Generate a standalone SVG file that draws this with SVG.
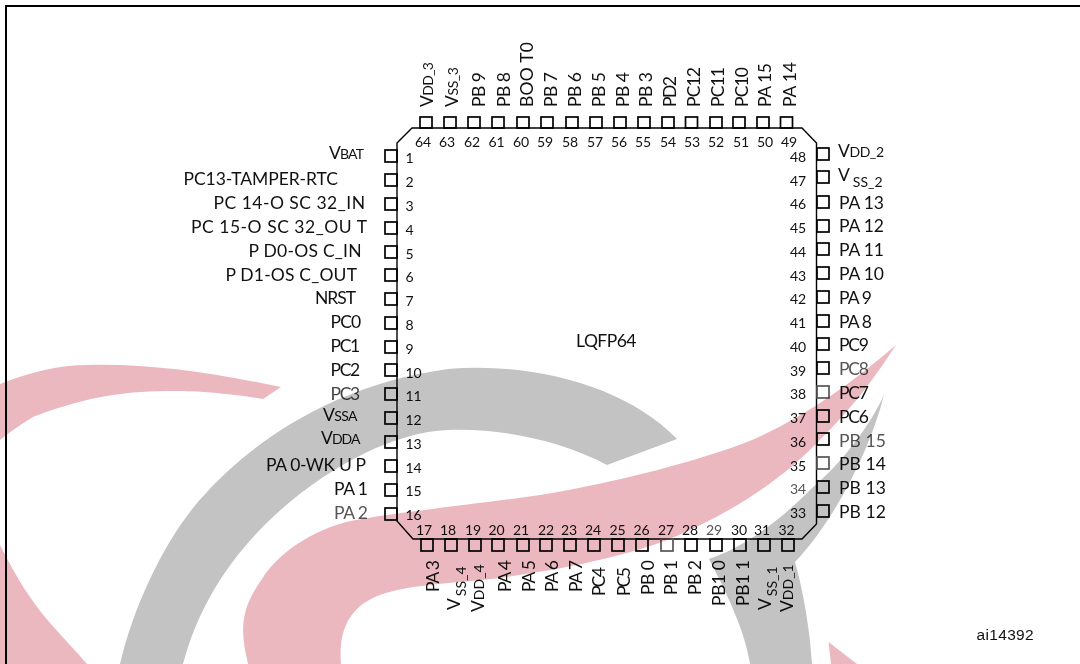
<svg xmlns="http://www.w3.org/2000/svg" width="1080" height="664" viewBox="0 0 1080 664">
<style>
text{font-family:"Lato","Open Sans","Liberation Sans",sans-serif;fill:#111}
.l{font-size:17.5px}
.n{font-size:14px}
.m{text-anchor:middle}
.s{font-size:14px}
.p{fill:none;stroke:#000;stroke-width:1.7}
.d{stroke:#555}
.g{fill:#555}
.w{mix-blend-mode:multiply}
</style>
<rect width="1080" height="664" fill="#fff"/>
<g id="frame"><path d="M6,664V6H1080" fill="none" stroke="#000" stroke-width="2"/></g>
<g id="package">
<path d="M397,143L412,128H802L816.5,143V524L802,539H413L397,521Z" fill="none" stroke="#000" stroke-width="1.4"/>
<text class="l" x="576" y="347" textLength="60.5">LQFP64</text>
</g>
<g id="pin1"><rect class="p" x="385" y="150" width="12" height="12"/><text class="n" x="405.5" y="163">1</text><text class="l" x="329" y="159" textLength="35">V<tspan class="s">BAT</tspan></text></g>
<g id="pin2"><rect class="p" x="385" y="174" width="12" height="12"/><text class="n" x="405.5" y="187">2</text><text class="l" x="183.5" y="185" textLength="154.5">PC13-TAMPER-RTC</text></g>
<g id="pin3"><rect class="p" x="385" y="198" width="12" height="12"/><text class="n" x="405.5" y="211">3</text><text class="l" x="213.5" y="209" textLength="151.5">PC 14-O SC 32_IN</text></g>
<g id="pin4"><rect class="p" x="385" y="222" width="12" height="12"/><text class="n" x="405.5" y="235">4</text><text class="l" x="191" y="233" textLength="176">PC 15-O SC 32_OU T</text></g>
<g id="pin5"><rect class="p" x="385" y="246" width="12" height="12"/><text class="n" x="405.5" y="259">5</text><text class="l" x="248.6" y="257" textLength="113">P D0-OS C_IN</text></g>
<g id="pin6"><rect class="p" x="385" y="269" width="12" height="12"/><text class="n" x="405.5" y="282">6</text><text class="l" x="225.5" y="281" textLength="131.5">P D1-OS C_OUT</text></g>
<g id="pin7"><rect class="p" x="385" y="293" width="12" height="12"/><text class="n" x="405.5" y="306">7</text><text class="l" x="315" y="304" textLength="41">NRST</text></g>
<g id="pin8"><rect class="p" x="385" y="317" width="12" height="12"/><text class="n" x="405.5" y="330">8</text><text class="l" x="330.6" y="328" textLength="30.5">PC0</text></g>
<g id="pin9"><rect class="p" x="385" y="341" width="12" height="12"/><text class="n" x="405.5" y="354">9</text><text class="l" x="330.6" y="352" textLength="29.5">PC1</text></g>
<g id="pin10"><rect class="p" x="385" y="364" width="12" height="12"/><text class="n" x="405.5" y="378">10</text><text class="l" x="330.6" y="376" textLength="29.5">PC2</text></g>
<g id="pin11"><rect class="p" x="385" y="388" width="12" height="12"/><text class="n" x="405.5" y="401">11</text><text class="l" x="330.6" y="400" textLength="29.5" style="fill:#444">PC3</text></g>
<g id="pin12"><rect class="p" x="385" y="412" width="12" height="12"/><text class="n" x="405.5" y="425">12</text><text class="l" x="323" y="421" textLength="34.5">V<tspan class="s">SSA</tspan></text></g>
<g id="pin13"><rect class="p" x="385" y="436" width="12" height="12"/><text class="n" x="405.5" y="449">13</text><text class="l" x="321" y="444" textLength="39.5">V<tspan class="s">DDA</tspan></text></g>
<g id="pin14"><rect class="p" x="385" y="460" width="12" height="12"/><text class="n" x="405.5" y="473">14</text><text class="l" x="266" y="470.7" textLength="100">PA 0-WK U P</text></g>
<g id="pin15"><rect class="p" x="385" y="484" width="12" height="12"/><text class="n" x="405.5" y="496">15</text><text class="l" x="334" y="494.7" textLength="34">PA 1</text></g>
<g id="pin16"><rect class="p" x="385" y="508" width="12" height="12"/><text class="n" x="405.5" y="520">16</text><text class="l g" x="334" y="518.7" textLength="34">PA 2</text></g>
<g id="pin17"><rect class="p" x="421" y="539" width="12" height="12"/><text class="n m" x="424" y="535">17</text><text class="l" transform="translate(439.4,592) rotate(-90)" textLength="32">PA 3</text></g>
<g id="pin18"><rect class="p" x="445" y="539" width="12" height="12"/><text class="n m" x="448" y="535">18</text><text class="l" transform="translate(460,610) rotate(-90)">V<tspan class="s" dy="6" dx="2">SS_4</tspan></text></g>
<g id="pin19"><rect class="p" x="469" y="539" width="12" height="12"/><text class="n m" x="473" y="535">19</text><text class="l" transform="translate(484,612) rotate(-90)">V<tspan class="s">DD_4</tspan></text></g>
<g id="pin20"><rect class="p" x="492" y="539" width="12" height="12"/><text class="n m" x="496.5" y="535">20</text><text class="l" transform="translate(510.6,592) rotate(-90)" textLength="32">PA 4</text></g>
<g id="pin21"><rect class="p" x="517" y="539" width="12" height="12"/><text class="n m" x="521" y="535">21</text><text class="l" transform="translate(535,592) rotate(-90)" textLength="32">PA 5</text></g>
<g id="pin22"><rect class="p" x="540" y="539" width="12" height="12"/><text class="n m" x="546" y="535">22</text><text class="l" transform="translate(558,592) rotate(-90)" textLength="32">PA 6</text></g>
<g id="pin23"><rect class="p" x="564" y="539" width="12" height="12"/><text class="n m" x="569" y="535">23</text><text class="l" transform="translate(582,592) rotate(-90)" textLength="32">PA 7</text></g>
<g id="pin24"><rect class="p" x="588" y="539" width="12" height="12"/><text class="n m" x="593" y="535">24</text><text class="l" transform="translate(605,596) rotate(-90)" textLength="29">PC4</text></g>
<g id="pin25"><rect class="p" x="612" y="539" width="12" height="12"/><text class="n m" x="617.5" y="535">25</text><text class="l" transform="translate(629.5,596) rotate(-90)" textLength="29">PC5</text></g>
<g id="pin26"><rect class="p" x="636" y="539" width="12" height="12"/><text class="n m" x="641.6" y="535">26</text><text class="l" transform="translate(653.6,595) rotate(-90)" textLength="35">PB 0</text></g>
<g id="pin27"><rect class="p d" x="661" y="539" width="12" height="12"/><text class="n m" x="666" y="535">27</text><text class="l" transform="translate(677,595) rotate(-90)" textLength="35">PB 1</text></g>
<g id="pin28"><rect class="p" x="685" y="539" width="12" height="12"/><text class="n m" x="690" y="535">28</text><text class="l" transform="translate(701,595) rotate(-90)" textLength="35">PB 2</text></g>
<g id="pin29"><rect class="p" x="710" y="539" width="12" height="12"/><text class="n m g" x="714" y="535">29</text><text class="l" transform="translate(725,606) rotate(-90)" textLength="46">PB1 0</text></g>
<g id="pin30"><rect class="p" x="734" y="539" width="12" height="12"/><text class="n m" x="739" y="535">30</text><text class="l" transform="translate(749,606) rotate(-90)" textLength="46">PB1 1</text></g>
<g id="pin31"><rect class="p" x="758" y="539" width="12" height="12"/><text class="n m" x="762" y="535">31</text><text class="l" transform="translate(770.7,610) rotate(-90)">V<tspan class="s" dy="6" dx="2">SS_1</tspan></text></g>
<g id="pin32"><rect class="p" x="782" y="539" width="12" height="12"/><text class="n m" x="786.5" y="535">32</text><text class="l" transform="translate(793,612) rotate(-90)">V<tspan class="s">DD_1</tspan></text></g>
<g id="pin33"><rect class="p" x="817" y="505" width="12" height="12"/><text class="n" x="790" y="518">33</text><text class="l" x="839" y="518" textLength="47">PB 12</text></g>
<g id="pin34"><rect class="p" x="817" y="481" width="12" height="12"/><text class="n g" x="790" y="494">34</text><text class="l" x="839" y="494" textLength="47">PB 13</text></g>
<g id="pin35"><rect class="p d" x="817" y="457" width="12" height="12"/><text class="n" x="790" y="471">35</text><text class="l" x="839" y="470" textLength="47">PB 14</text></g>
<g id="pin36"><rect class="p" x="817" y="433" width="12" height="12"/><text class="n" x="790" y="447">36</text><text class="l g" x="839" y="447" textLength="47">PB 15</text></g>
<g id="pin37"><rect class="p" x="817" y="410" width="12" height="12"/><text class="n" x="790" y="423">37</text><text class="l" x="839" y="423" textLength="30">PC6</text></g>
<g id="pin38"><rect class="p d" x="817" y="386" width="12" height="12"/><text class="n" x="790" y="399">38</text><text class="l" x="839" y="399" textLength="30">PC7</text></g>
<g id="pin39"><rect class="p" x="817" y="362" width="12" height="12"/><text class="n" x="790" y="376">39</text><text class="l g" x="839" y="375" textLength="30">PC8</text></g>
<g id="pin40"><rect class="p" x="817" y="338" width="12" height="12"/><text class="n" x="790" y="352">40</text><text class="l" x="839" y="351" textLength="30">PC9</text></g>
<g id="pin41"><rect class="p" x="817" y="315" width="12" height="12"/><text class="n" x="790" y="328">41</text><text class="l" x="839" y="328" textLength="33">PA 8</text></g>
<g id="pin42"><rect class="p" x="817" y="291" width="12" height="12"/><text class="n" x="790" y="304">42</text><text class="l" x="839" y="304" textLength="33">PA 9</text></g>
<g id="pin43"><rect class="p" x="817" y="267" width="12" height="12"/><text class="n" x="790" y="281">43</text><text class="l" x="839" y="280" textLength="45">PA 10</text></g>
<g id="pin44"><rect class="p" x="817" y="243" width="12" height="12"/><text class="n" x="790" y="257">44</text><text class="l" x="839" y="256" textLength="45">PA 11</text></g>
<g id="pin45"><rect class="p" x="817" y="220" width="12" height="12"/><text class="n" x="790" y="233">45</text><text class="l" x="839" y="232" textLength="45">PA 12</text></g>
<g id="pin46"><rect class="p" x="817" y="196" width="12" height="12"/><text class="n" x="790" y="209">46</text><text class="l" x="839" y="209" textLength="45">PA 13</text></g>
<g id="pin47"><rect class="p" x="817" y="171" width="12" height="12"/><text class="n" x="790" y="186">47</text><text class="l" x="838" y="181">V<tspan class="s" dy="6" dx="3">SS_2</tspan></text></g>
<g id="pin48"><rect class="p" x="817" y="148" width="12" height="12"/><text class="n" x="790" y="162">48</text><text class="l" x="838" y="157" textLength="46">V<tspan class="s">DD_2</tspan></text></g>
<g id="pin49"><rect class="p" x="780.5" y="117" width="12" height="11"/><text class="n m" x="789" y="147">49</text><text class="l" transform="translate(795.5,107) rotate(-90)" textLength="45">PA 14</text></g>
<g id="pin50"><rect class="p" x="757" y="117" width="12" height="11"/><text class="n m" x="765" y="147">50</text><text class="l" transform="translate(771,107) rotate(-90)" textLength="44">PA 15</text></g>
<g id="pin51"><rect class="p" x="733" y="117" width="12" height="11"/><text class="n m" x="741" y="147">51</text><text class="l" transform="translate(748,107) rotate(-90)" textLength="40">PC10</text></g>
<g id="pin52"><rect class="p" x="710" y="117" width="12" height="11"/><text class="n m" x="716" y="147">52</text><text class="l" transform="translate(724,107) rotate(-90)" textLength="40">PC11</text></g>
<g id="pin53"><rect class="p" x="685.5" y="117" width="12" height="11"/><text class="n m" x="692" y="147">53</text><text class="l" transform="translate(700,107) rotate(-90)" textLength="40">PC12</text></g>
<g id="pin54"><rect class="p" x="662" y="117" width="12" height="11"/><text class="n m" x="668" y="147">54</text><text class="l" transform="translate(676,107) rotate(-90)" textLength="31">PD2</text></g>
<g id="pin55"><rect class="p" x="638" y="117" width="12" height="11"/><text class="n m" x="643" y="147">55</text><text class="l" transform="translate(652,107) rotate(-90)" textLength="35">PB 3</text></g>
<g id="pin56"><rect class="p" x="614" y="117" width="12" height="11"/><text class="n m" x="619" y="147">56</text><text class="l" transform="translate(628.5,107) rotate(-90)" textLength="35">PB 4</text></g>
<g id="pin57"><rect class="p" x="590" y="117" width="12" height="11"/><text class="n m" x="595" y="147">57</text><text class="l" transform="translate(604.7,107) rotate(-90)" textLength="35">PB 5</text></g>
<g id="pin58"><rect class="p" x="566" y="117" width="12" height="11"/><text class="n m" x="570" y="147">58</text><text class="l" transform="translate(580.6,107) rotate(-90)" textLength="35">PB 6</text></g>
<g id="pin59"><rect class="p" x="541" y="117" width="12" height="11"/><text class="n m" x="545" y="147">59</text><text class="l" transform="translate(556.5,107) rotate(-90)" textLength="35">PB 7</text></g>
<g id="pin60"><rect class="p" x="517" y="117" width="12" height="11"/><text class="n m" x="521" y="147">60</text><text class="l" transform="translate(533,107) rotate(-90)" textLength="65">BOO T0</text></g>
<g id="pin61"><rect class="p" x="492" y="117" width="12" height="11"/><text class="n m" x="496.5" y="147">61</text><text class="l" transform="translate(509.6,107) rotate(-90)" textLength="35">PB 8</text></g>
<g id="pin62"><rect class="p" x="468" y="117" width="12" height="11"/><text class="n m" x="472" y="147">62</text><text class="l" transform="translate(485,107) rotate(-90)" textLength="35">PB 9</text></g>
<g id="pin63"><rect class="p" x="444" y="117" width="12" height="11"/><text class="n m" x="447" y="147">63</text><text class="l" transform="translate(458,107) rotate(-90)" textLength="40">V<tspan class="s">SS_3</tspan></text></g>
<g id="pin64"><rect class="p" x="420" y="117" width="12" height="11"/><text class="n m" x="423" y="147">64</text><text class="l" transform="translate(433,107) rotate(-90)" textLength="45">V<tspan class="s">DD_3</tspan></text></g>
<g id="label"><text x="976.6" y="640" textLength="57" style="font-family:'Liberation Sans',sans-serif;font-size:15.5px">ai14392</text></g>
<g id="watermark" class="w">
<path fill="#c3c3c3" d="M120,664C135,600 170,530 207,492C250,445 330,385 448,369C530,362 625,385 677,439L607,465C560,440 500,428 448,430C395,432 330,465 275,515C235,552 200,600 183,664Z"/>
<path fill="#c3c3c3" d="M884,395C870,450 835,520 795,562C803,590 810,630 812,664H750C745,630 725,590 709,559C750,545 785,515 810,490C845,460 870,425 884,395Z"/>
<path fill="#ecb8c0" d="M896,345C870,385 850,410 815,445C785,475 740,510 667,540C620,558 550,572 482,580C440,584 400,586 375,597C350,608 338,630 341,664H248C240,630 240,610 262,579C280,550 320,525 362,519C400,512 470,505 540,495C620,482 700,460 747,442C800,420 850,385 896,345Z"/>
<path fill="#ecb8c0" d="M0,384C30,372 60,365 87,365C145,363 210,372 281,387L263,399C220,392 190,391 173,391C130,391 90,395 33,417C20,425 10,432 0,440Z"/>
<path fill="#ecb8c0" d="M0,545C15,575 30,600 50,623C65,640 75,650 87,664H0Z"/>
<path fill="#ecb8c0" d="M828.5,642L857,664H831Z"/>
</g>
</svg>
